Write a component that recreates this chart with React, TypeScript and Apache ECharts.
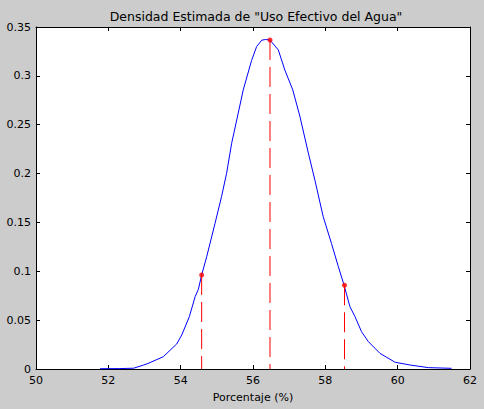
import React, { useEffect, useRef } from "react";
import * as echarts from "echarts";

const curveX = [51.77, 52.3, 52.7, 52.97, 53.1, 53.52, 53.89, 54.03, 54.24, 54.4, 54.49, 54.58, 54.72, 54.95, 55.13, 55.27, 55.41, 55.55, 55.73, 55.96, 56.1, 56.24, 56.35, 56.47, 56.7, 56.88, 57.1, 57.3, 57.53, 57.71, 57.94, 58.17, 58.36, 58.52, 58.68, 58.82, 59.0, 59.19, 59.51, 59.93, 60.34, 60.85, 61.49];
const curveY = [0.0003, 0.0004, 0.0008, 0.004, 0.0057, 0.0126, 0.0256, 0.0348, 0.0536, 0.074, 0.0816, 0.0962, 0.115, 0.149, 0.1764, 0.2003, 0.231, 0.2548, 0.2856, 0.3157, 0.3299, 0.3365, 0.3372, 0.3367, 0.3265, 0.306, 0.2856, 0.258, 0.221, 0.1935, 0.156, 0.1285, 0.1047, 0.0856, 0.0638, 0.0536, 0.0382, 0.028, 0.016, 0.0069, 0.0041, 0.0014, 0.0007];
const markX = [54.58, 56.47, 58.53];
const markY = [0.0962, 0.3367, 0.0857];

const titleText = 'Densidad Estimada de "Uso Efectivo del Agua"';
const xName = "Porcentaje (%)";

export default function App() {
  const ref = useRef<HTMLDivElement>(null);
  useEffect(() => {
    if (!ref.current) return;
    const chart = echarts.init(ref.current, null, { renderer: "svg" });
    const font = "'DejaVu Sans', sans-serif";
    const lineStyle = { color: "#000", width: 1 };
    const baseX = {
      type: "value" as const,
      min: 50,
      max: 62,
      interval: 2,
      splitLine: { show: false },
      axisLine: { show: true, onZero: false, lineStyle },
      axisTick: { show: true, inside: true, length: 4, lineStyle },
    };
    const baseY = {
      type: "value" as const,
      min: 0,
      max: 0.35,
      interval: 0.05,
      splitLine: { show: false },
      axisLine: { show: true, onZero: false, lineStyle },
      axisTick: { show: true, inside: true, length: 4, lineStyle },
    };
    const dashSeries = markX.map((x, i) => ({
      type: "line" as const,
      data: [[x, markY[i]], [x, 0]],
      symbol: "none",
      lineStyle: { color: "#ff0000", width: 1, type: [20, 7] },
      z: 3,
      silent: true,
    }));
    chart.setOption({
      animation: false,
      backgroundColor: "#cccccc",
      title: {
        text: titleText,
        left: 251,
        top: 5,
        textAlign: "center",
        textStyle: { fontSize: 12.5, fontWeight: "normal", color: "#000", fontFamily: font },
      },
      grid: { left: 36, right: 14, top: 27, bottom: 40, show: true, backgroundColor: "#ffffff", borderWidth: 0 },
      xAxis: [
        {
          ...baseX,
          position: "bottom",
          name: xName,
          nameLocation: "middle",
          nameGap: 23,
          nameTextStyle: { fontSize: 11, color: "#000", fontFamily: font },
          axisLabel: { fontSize: 11, color: "#000", margin: 6, fontFamily: font },
        },
        { ...baseX, position: "top", axisLabel: { show: false } },
      ],
      yAxis: [
        {
          ...baseY,
          position: "left",
          axisLabel: { fontSize: 11, color: "#000", margin: 5, fontFamily: font },
        },
        { ...baseY, position: "right", axisLabel: { show: false } },
      ],
      series: [
        {
          type: "line",
          data: curveX.map((x, i) => [x, curveY[i]]),
          symbol: "none",
          lineStyle: { color: "#0000ff", width: 1 },
          z: 2,
          clip: false,
        },
        ...dashSeries,
        {
          type: "scatter",
          data: markX.map((x, i) => [x, markY[i]]),
          symbol: "circle",
          symbolSize: 5,
          itemStyle: { color: "#ff0000" },
          z: 4,
        },
      ],
    });
    return () => chart.dispose();
  }, []);
  return <div ref={ref} style={{ position: "absolute", left: 0, top: 0, width: 484, height: 409 }} />;
}
